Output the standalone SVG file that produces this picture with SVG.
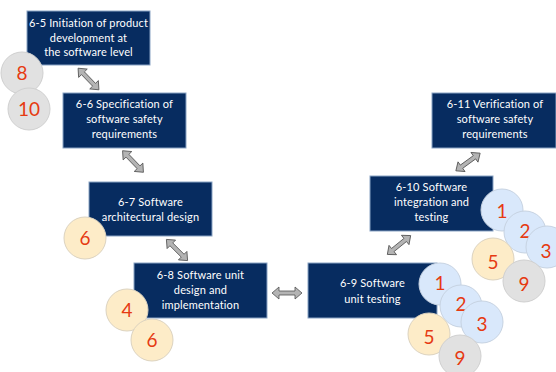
<svg xmlns="http://www.w3.org/2000/svg" xmlns:xlink="http://www.w3.org/1999/xlink" width="556" height="372" viewBox="0 0 556 372">
<style>
.box{fill:#072c60;stroke:#8aa3c4;stroke-width:1}
.bt{fill:#ffffff;font-family:Lato,"Open Sans",sans-serif;font-size:11px;text-anchor:middle;letter-spacing:0.15px}
.blue{fill:#d9e8fb;stroke:#c7d3e2;stroke-width:1}
.cream{fill:#fdecc8;stroke:#dcd3c0;stroke-width:1}
.gray{fill:#e1e1e1;stroke:#d0d0d0;stroke-width:1}
.num{fill:#e63a12;font-family:Lato,"Open Sans",sans-serif;font-size:19px;text-anchor:middle}
.arr{fill:#b4b4b4;stroke:#505050;stroke-width:0.8}
</style>
<defs>
<path id="dbl" class="arr" d="M -15 0 L -8 -6 L -8 -2 L 8 -2 L 8 -6 L 15 0 L 8 6 L 8 2 L -8 2 L -8 6 Z"/>
</defs>
<rect width="556" height="372" fill="#ffffff"/>
<g id="connectors">
<use xlink:href="#dbl" transform="translate(88.5,79) rotate(46)"/>
<use xlink:href="#dbl" transform="translate(133,161.5) rotate(46)"/>
<use xlink:href="#dbl" transform="translate(177,250) rotate(45)"/>
<use xlink:href="#dbl" transform="translate(287,293)"/>
<use xlink:href="#dbl" transform="translate(399,245) rotate(-39)"/>
<use xlink:href="#dbl" transform="translate(468,162) rotate(-36)"/>
</g>
<g id="n65">
<rect class="box" x="27" y="11" width="123" height="54"/>
<text class="bt" x="88.5" y="27">6-5 Initiation of product</text>
<text class="bt" x="88.5" y="41.5">development at</text>
<text class="bt" x="88.5" y="56">the software level</text>
</g>
<g id="n66">
<rect class="box" x="63" y="93" width="123" height="55"/>
<text class="bt" x="124.5" y="108">6-6 Specification of</text>
<text class="bt" x="124.5" y="123">software safety</text>
<text class="bt" x="124.5" y="137.5">requirements</text>
</g>
<g id="n67">
<rect class="box" x="89" y="182" width="123" height="54"/>
<text class="bt" x="150.5" y="206">6-7 Software</text>
<text class="bt" x="150.5" y="220.5">architectural design</text>
</g>
<g id="n68">
<rect class="box" x="134" y="263" width="133" height="55"/>
<text class="bt" x="200.5" y="279">6-8 Software unit</text>
<text class="bt" x="200.5" y="294">design and</text>
<text class="bt" x="200.5" y="308.5">implementation</text>
</g>
<g id="n69">
<rect class="box" x="308" y="263" width="129" height="55"/>
<text class="bt" x="372.5" y="287">6-9 Software</text>
<text class="bt" x="372.5" y="302.5">unit testing</text>
</g>
<g id="n610">
<rect class="box" x="370" y="176" width="123" height="55"/>
<text class="bt" x="431.5" y="191">6-10 Software</text>
<text class="bt" x="431.5" y="206">integration and</text>
<text class="bt" x="431.5" y="221">testing</text>
</g>
<g id="n611">
<rect class="box" x="432" y="93" width="124" height="55"/>
<text class="bt" x="495" y="108">6-11 Verification of</text>
<text class="bt" x="495" y="123">software safety</text>
<text class="bt" x="495" y="137.5">requirements</text>
</g>
<g id="c-8"><circle class="gray" cx="22" cy="73" r="21"/><text class="num" x="22" y="80">8</text></g>
<g id="c-10"><circle class="gray" cx="29" cy="109" r="21"/><text class="num" x="29" y="116">10</text></g>
<g id="c-6a"><circle class="cream" cx="85" cy="238" r="21"/><text class="num" x="85" y="245">6</text></g>
<g id="c-4"><circle class="cream" cx="127" cy="310" r="21"/><text class="num" x="127" y="317">4</text></g>
<g id="c-6b"><circle class="cream" cx="152" cy="340" r="21"/><text class="num" x="152" y="347">6</text></g>
<g id="c69-1"><circle class="blue" cx="440" cy="284" r="21"/><text class="num" x="440" y="290">1</text></g>
<g id="c69-2"><circle class="blue" cx="461" cy="306" r="21"/><text class="num" x="461" y="311">2</text></g>
<g id="c69-3"><circle class="blue" cx="482" cy="322" r="21"/><text class="num" x="482" y="331">3</text></g>
<g id="c69-5"><circle class="cream" cx="429" cy="334" r="21"/><text class="num" x="429" y="344">5</text></g>
<g id="c69-9"><circle class="gray" cx="460" cy="356" r="21"/><text class="num" x="460" y="365">9</text></g>
<g id="c610-1"><circle class="blue" cx="502" cy="210" r="21"/><text class="num" x="502" y="218">1</text></g>
<g id="c610-2"><circle class="blue" cx="525" cy="232" r="21"/><text class="num" x="525" y="238">2</text></g>
<g id="c610-3"><circle class="blue" cx="547" cy="247" r="21"/><text class="num" x="546" y="258">3</text></g>
<g id="c610-5"><circle class="cream" cx="493" cy="259" r="21"/><text class="num" x="493" y="269">5</text></g>
<g id="c610-9"><circle class="gray" cx="524" cy="281" r="21"/><text class="num" x="524" y="291">9</text></g>
</svg>
